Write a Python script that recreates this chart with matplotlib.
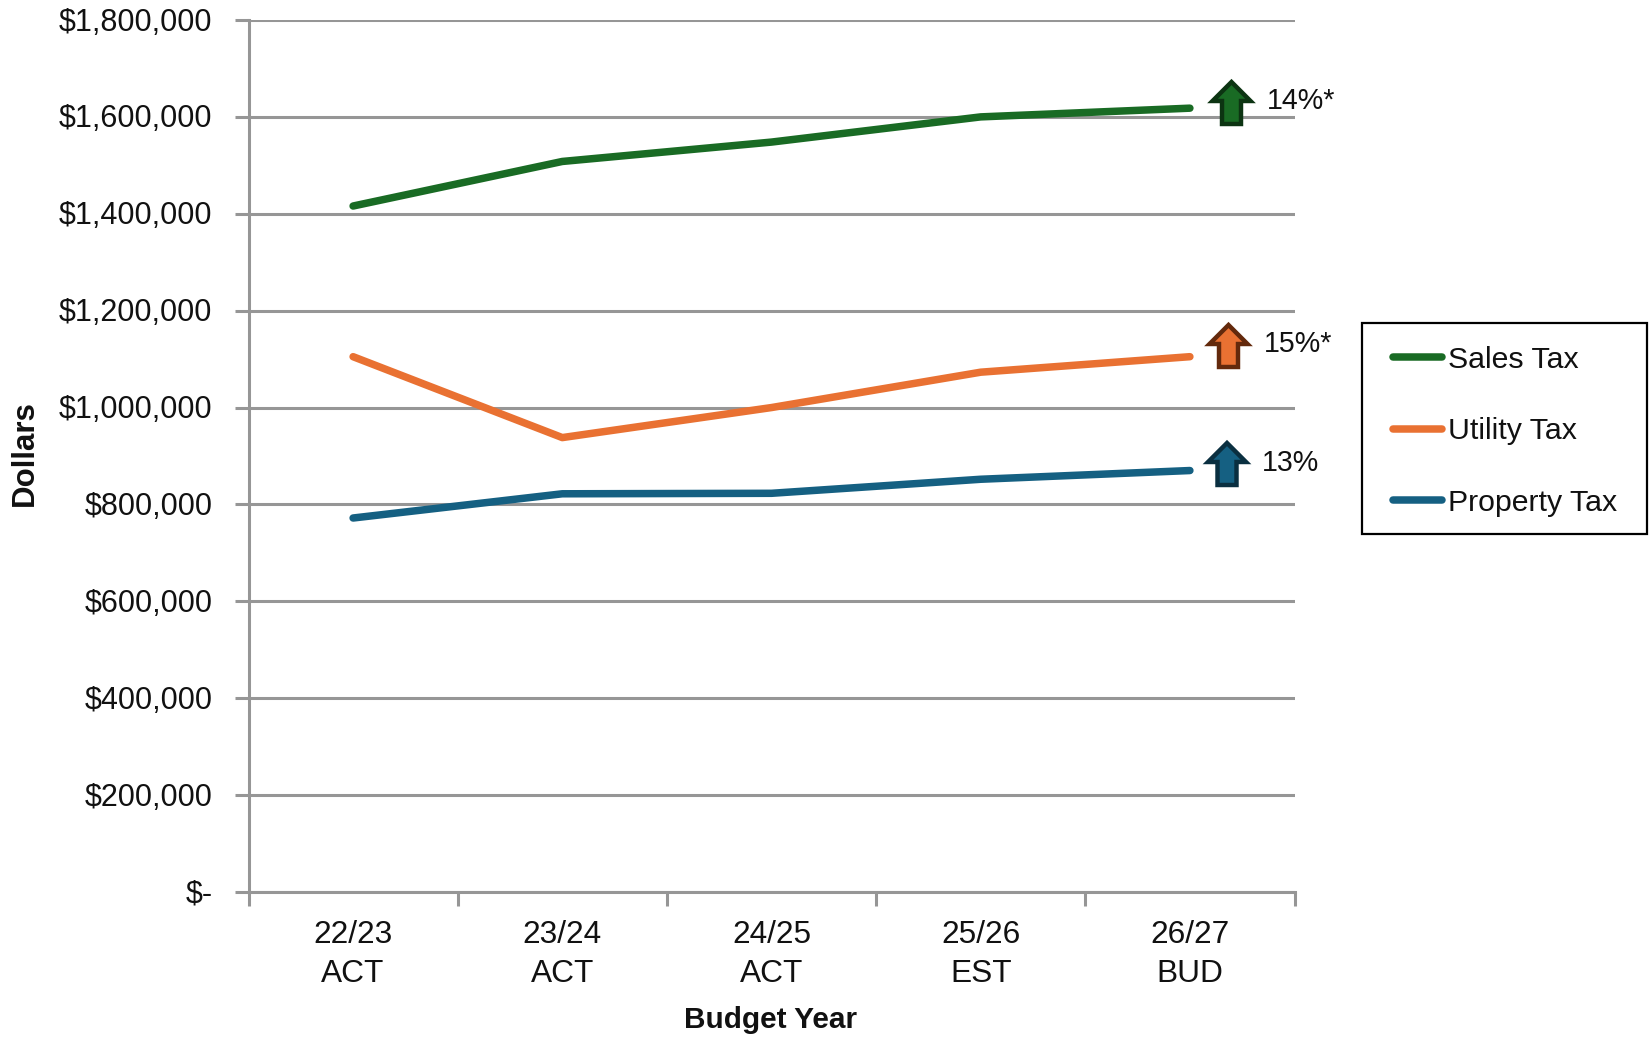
import matplotlib
matplotlib.use('Agg')
import matplotlib.pyplot as plt
from matplotlib.patches import Polygon, Rectangle
from matplotlib.ticker import FuncFormatter
from matplotlib.transforms import ScaledTranslation

WIDTH, HEIGHT = 1651, 1038

years = ['22/23\nACT', '23/24\nACT', '24/25\nACT', '25/26\nEST', '26/27\nBUD']
sales_tax = [1416000, 1508000, 1548000, 1600000, 1618000]
utility_tax = [1105000, 938000, 1000000, 1073000, 1105000]
property_tax = [772000, 822000, 823000, 852000, 870000]

series_names = ['Sales Tax', 'Utility Tax', 'Property Tax']
series_colors = ['#196B24', '#E97132', '#156082']
edge_colors = ['#0C3412', '#63290C', '#0A2F40']
changes = ['14%*', '15%*', '13%']

# arrow tip position and label position, in pixels from the top left
arrow_tips = [(1231.5, 82), (1228.5, 325), (1227, 443)]
label_pos = [(1267, 101), (1264, 344), (1262, 463)]

GRID = '#969696'
TEXT = '#111111'

plt.rcParams['font.family'] = ['Liberation Sans', 'DejaVu Sans']


def px(x, y):
    return x / WIDTH, 1 - y / HEIGHT


def up_arrow(fig, tip, face, edge):
    x, y = tip
    shape = [(0, 0), (19, 19), (9.5, 19), (9.5, 42), (-9.5, 42), (-9.5, 19), (-19, 19)]
    pts = [px(x + dx, y + dy) for dx, dy in shape]
    fig.add_artist(Polygon(pts, closed=True, transform=fig.transFigure,
                           facecolor=face, edgecolor=edge, linewidth=3.2,
                           joinstyle='miter', zorder=5))


def money(v, pos):
    if v == 0:
        return '$-'
    return '${:,.0f}'.format(v)


fig = plt.figure(figsize=(WIDTH / 100, HEIGHT / 100), dpi=100)
left, top = px(248.5, 20)
right, bottom = px(1294.5, 892)
ax = fig.add_axes([left, bottom, right - left, top - bottom])

positions = [i + 0.5 for i in range(len(years))]
for values, name, color in zip([sales_tax, utility_tax, property_tax], series_names, series_colors):
    ax.plot(positions, values, color=color, linewidth=5.4, label=name,
            solid_capstyle='round', solid_joinstyle='round', zorder=3)

ax.set_xlim(0, len(years))
ax.set_ylim(0, 1800000)
ax.set_yticks(range(0, 1800001, 200000))
ax.yaxis.set_major_formatter(FuncFormatter(money))
ax.set_xticks(range(len(years) + 1))
ax.set_xticklabels([])
ax.set_xticks(positions, labels=years, minor=True)
ax.tick_params(axis='x', which='minor', length=0, pad=20, labelsize=22.8, labelcolor=TEXT)
ax.tick_params(axis='x', which='major', length=10, width=2.2, color=GRID)
ax.tick_params(axis='y', length=10, width=2.2, color=GRID, pad=16, labelsize=22, labelcolor=TEXT)
for label in ax.get_xticklabels(minor=True):
    label.set_linespacing(1.4)
# nudge the dollar labels up a touch against their gridlines
nudge = ScaledTranslation(0, 1 / 100, fig.dpi_scale_trans)
for label in ax.get_yticklabels():
    label.set_transform(label.get_transform() + nudge)

ax.grid(axis='y', color=GRID, linewidth=2.2, zorder=1)
ax.set_axisbelow(True)
for side in ['top', 'right']:
    ax.spines[side].set_visible(False)
for side in ['left', 'bottom']:
    ax.spines[side].set_color(GRID)
    ax.spines[side].set_linewidth(2.2)

fig.text(*px(25, 453), 'Dollars', rotation=90, ha='center', va='center',
         fontsize=22.5, fontweight='bold', color=TEXT)
fig.text(*px(771, 1020), 'Budget Year', ha='center', va='center',
         fontsize=21.4, fontweight='bold', color=TEXT)

for tip, pos, change, face, edge in zip(arrow_tips, label_pos, changes, series_colors, edge_colors):
    up_arrow(fig, tip, face, edge)
    fig.text(*px(*pos), change, ha='left', va='center', fontsize=20.6, color=TEXT)

# legend box is separate so its margins can differ by side
box_x, box_y = px(1362, 534)
box_r, box_t = px(1647, 323)
ax.add_patch(Rectangle((box_x, box_y), box_r - box_x, box_t - box_y, transform=fig.transFigure,
                       facecolor='white', edgecolor='black', linewidth=1.6, clip_on=False, zorder=5))
legend = ax.legend(loc='upper left', bbox_to_anchor=px(1392.5, 346), bbox_transform=fig.transFigure,
                   fontsize=21.8, labelcolor=TEXT, frameon=False, borderaxespad=0, borderpad=0,
                   handlelength=1.62, handletextpad=0.2, labelspacing=1.43)
legend.set_zorder(6)

fig.savefig('out.png', dpi=100)
